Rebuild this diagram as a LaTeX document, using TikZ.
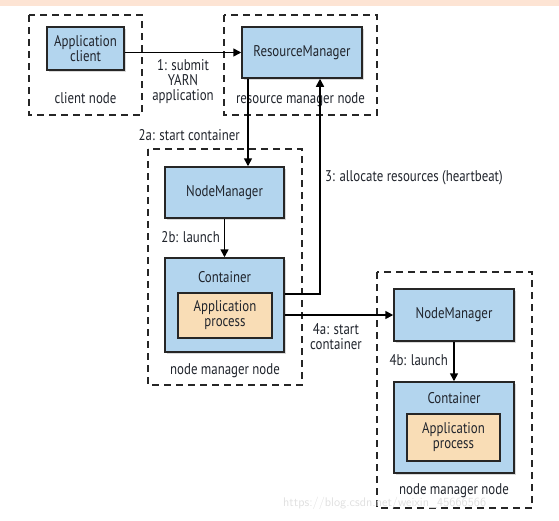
\documentclass[tikz,border=0pt]{standalone}
\usepackage{fontspec}
\setmainfont{PT Sans}[FakeStretch=0.83]
\usetikzlibrary{arrows.meta,shadows}
\definecolor{boxblue}{HTML}{B3D5EE}
\definecolor{boxorange}{HTML}{F9DDB6}
\definecolor{txt}{HTML}{20242C}
\definecolor{peach}{HTML}{FDE4D4}
\tikzset{
  every node/.style={text=txt, font=\fontsize{15.5}{17}\selectfont},
  hostbox/.style={draw=black!85, line width=2pt, dash pattern=on 7pt off 5pt},
  bluebox/.style={draw=black!85, line width=1.5pt, fill=boxblue, inner sep=0pt, align=center,
    drop shadow={opacity=0.3, shadow xshift=1.5pt, shadow yshift=-1.5pt}},
  orangebox/.style={draw=black!85, line width=1.5pt, fill=boxorange, inner sep=0pt, align=center},
  conn/.style={draw=black, line width=1.6pt, -{Triangle[length=8pt,width=8pt]}},
  lbl/.style={align=center, inner sep=0pt},
}
\begin{document}
\begin{tikzpicture}[x=1pt,y=-1pt]
\useasboundingbox (0,0) rectangle (559,520);
\fill[peach] (0,0) rectangle (559,6);
% host boxes
\draw[hostbox] (29,15) rectangle (142,115);
\draw[hostbox] (224,15) rectangle (377,115);
\draw[hostbox] (148,149) rectangle (302,385);
\draw[hostbox] (377,272) rectangle (532,508);
% client
\node[bluebox, minimum width=77pt, minimum height=43pt] (app) at (85.5,48.5) {Application\\[-2pt]client};
\node[lbl] (cn) at (85.5,98) {client node};
% resource manager
\node[bluebox, minimum width=120pt, minimum height=51pt] (rm) at (302,52.5) {ResourceManager};
\node[lbl] (rmn) at (300.5,100) {resource manager node};
% node manager 1
\node[bluebox, minimum width=119pt, minimum height=51pt] (nm1) at (224.5,192.5) {NodeManager};
\node[bluebox, minimum width=119pt, minimum height=94pt] (c1) at (224.5,305) {};
\node[lbl] (c1t) at (224.5,277) {Container};
\node[orangebox, minimum width=94pt, minimum height=45pt] (ap1) at (225,315.5) {Application\\[-2pt]process};
\node[lbl] (nmn1) at (225,371) {node manager node};
% node manager 2
\node[bluebox, minimum width=120pt, minimum height=52pt] (nm2) at (454,315) {NodeManager};
\node[bluebox, minimum width=120pt, minimum height=91pt] (c2) at (454,427.5) {};
\node[lbl] (c2t) at (454,398) {Container};
\node[orangebox, minimum width=93pt, minimum height=47pt] (ap2) at (453.5,437.5) {Application\\[-2pt]process};
\node[lbl] (nmn2) at (454,491) {node manager node};
% watermark
\node[lbl, text=black!12, font=\fontsize{12.5}{14}\selectfont\sffamily, anchor=west] (wm) at (283,503) {https://blog.csdn.net/weixin\_45666566};
% connectors
\coordinate (a1) at (app.east |- rm.west);
\draw[conn] (a1) -- (rm.west);
\node[lbl] (l1) at (183,82) {1: submit\\[-2pt]YARN\\[-2pt]application};
\coordinate (a2s) at (248,78);
\coordinate (a2e) at (248,167);
\draw[conn] (rm.south -| a2s) -- (nm1.north -| a2e);
\node[lbl, anchor=east] (l2a) at (240,135) {2a: start container};
\draw[conn] (nm1.south) -- (c1.north);
\node[lbl, anchor=east] (l2b) at (220,237) {2b: launch};
\coordinate (a3s) at (284,294);
\coordinate (a3m) at (320,294);
\draw[conn] (c1.east |- a3s) -- (a3m) -- (rm.south -| a3m);
\node[lbl, anchor=west] (l3) at (325,178) {3: allocate resources (heartbeat)};
\draw[conn] (c1.east |- nm2.west) -- (nm2.west);
\node[lbl] (l4a) at (336,337) {4a: start\\[-2pt]container};
\draw[conn] (nm2.south) -- (c2.north);
\node[lbl, anchor=east] (l4b) at (448,360) {4b: launch};
\end{tikzpicture}
\end{document}
